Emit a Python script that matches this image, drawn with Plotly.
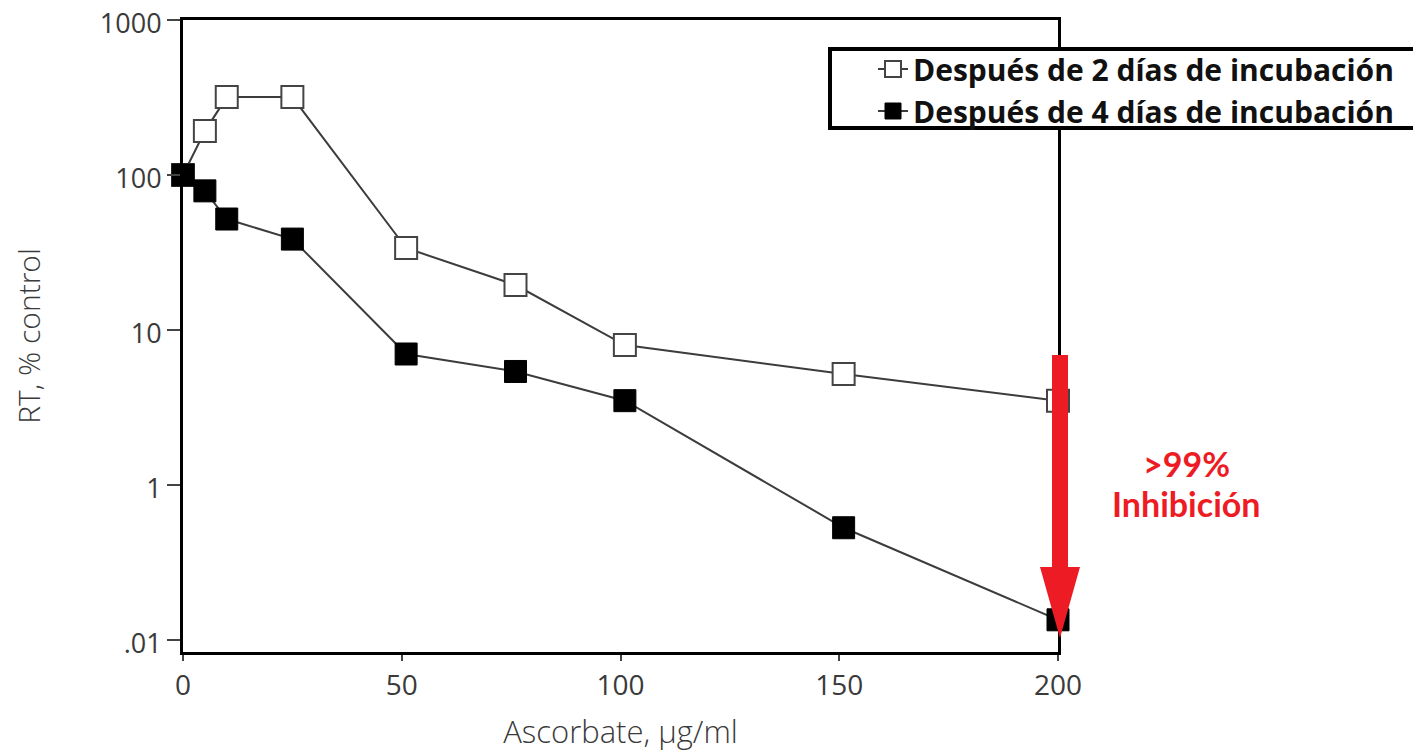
import plotly.graph_objects as go

# Data
x_2d = [0, 5, 10, 25, 51, 76, 101, 151, 200]
y_2d = [100, 192, 318, 318, 33.8, 19.5, 8.0, 5.2, 3.5]
x_4d = [0, 5, 10, 25, 51, 76, 101, 151, 200]
y_4d = [100, 79, 52, 38.6, 7.0, 5.4, 3.5, 0.53, 0.135]
name_2d = "Después de 2 días de incubación"
name_4d = "Después de 4 días de incubación"
x_ticks = [0, 50, 100, 150, 200]
y_ticks = [0.1, 1, 10, 100, 1000]
y_ticktext = [".01", "1", "10", "100", "1000"]

RED = "#ED1C24"
GRAY_TXT = "#3a3a3a"

fig = go.Figure()
fig.add_trace(go.Scatter(
    x=x_2d, y=y_2d, name=name_2d, mode="lines+markers", cliponaxis=False,
    line=dict(color="#3c3c3c", width=2),
    marker=dict(symbol="square", size=22, color="white", line=dict(color="#444", width=2)),
))
fig.add_trace(go.Scatter(
    x=x_4d, y=y_4d, name=name_4d, mode="lines+markers", cliponaxis=False,
    line=dict(color="#3c3c3c", width=2),
    marker=dict(symbol="square", size=22, color="black", line=dict(color="black", width=1)),
))

# page offset (body margin of the html page)
OFF = 8
W, H = 1421 - OFF, 752 - OFF
L, T = 183 - OFF, 20 - OFF
R = W - (1058 - OFF)
B = H - (652 - OFF)
pw, ph = W - L - R, H - T - B


def px(xp):
    return (xp - OFF - L) / pw


def py(yp):
    return (H - B - (yp - OFF)) / ph


# red arrow (paper coords)
shaft_l, shaft_r, shaft_top, head_top = 1052, 1068, 355, 567
head_l, head_r, tip_x, tip_y = 1040, 1080, 1060, 638
path = (f"M {px(shaft_l)},{py(shaft_top)} L {px(shaft_r)},{py(shaft_top)} "
        f"L {px(shaft_r)},{py(head_top)} L {px(head_r)},{py(head_top)} "
        f"L {px(tip_x)},{py(tip_y)} L {px(head_l)},{py(head_top)} "
        f"L {px(shaft_l)},{py(head_top)} Z")
fig.add_shape(type="path", xref="paper", yref="paper", path=path,
              fillcolor=RED, line=dict(width=0), layer="above")

# legend frame
fig.add_shape(type="rect", xref="paper", yref="paper",
              x0=px(830), x1=px(1416), y0=py(128), y1=py(49),
              fillcolor="white", line=dict(color="black", width=4), layer="above")

fig.add_annotation(xref="paper", yref="paper", x=px(1186), y=py(463),
                   xanchor="center", yanchor="middle",
                   text=">99%", showarrow=False,
                   font=dict(family="Lato", size=34, color=RED, weight="bold"))
fig.add_annotation(xref="paper", yref="paper", x=px(1186), y=py(503),
                   xanchor="center", yanchor="middle",
                   text="Inhibición", showarrow=False,
                   font=dict(family="Lato", size=34, color=RED, weight="bold"))

fig.update_layout(
    width=W, height=H,
    margin=dict(l=L, r=R, t=T, b=B, autoexpand=False),
    paper_bgcolor="white", plot_bgcolor="white",
    showlegend=True,
    legend=dict(
        x=px(873), y=py(43), xanchor="left", yanchor="top",
        bgcolor="rgba(0,0,0,0)", borderwidth=0,
        font=dict(family="Open Sans", size=30, color="#111", weight="bold"),
        itemsizing="trace", tracegroupgap=0,
    ),
    xaxis=dict(
        range=[0, 200], tickvals=x_ticks, showline=True, mirror=True,
        linecolor="black", linewidth=3, ticks="outside", ticklen=6, tickwidth=2,
        tickcolor="#444", showgrid=False, zeroline=False, automargin=False,
        ticklabeloverflow="allow",
        tickfont=dict(family="Open Sans", size=28, color=GRAY_TXT),
        title=dict(text="Ascorbate, µg/ml", standoff=22,
                   font=dict(family="Open Sans", size=31, color=GRAY_TXT, weight=300)),
    ),
    yaxis=dict(
        type="log", range=[3 - ph / 155, 3], tickvals=y_ticks, ticktext=y_ticktext,
        showline=True, mirror=True, linecolor="black", linewidth=3,
        ticks="outside", ticklen=13, tickwidth=2, tickcolor="#444",
        showgrid=False, zeroline=False, automargin=False,
        ticklabeloverflow="allow", ticklabelshift=4,
        tickfont=dict(family="Open Sans", size=27, color=GRAY_TXT),
        title=dict(text="RT, % control", standoff=63,
                   font=dict(family="Open Sans", size=30, color=GRAY_TXT, weight=300)),
    ),
)

fig.write_html("out.html")
